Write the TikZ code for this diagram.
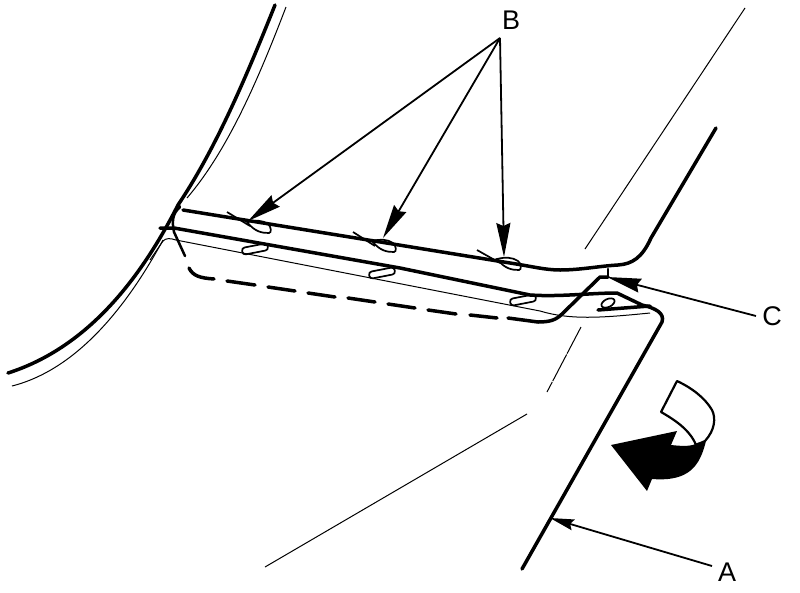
\documentclass[tikz,border=0pt]{standalone}
\usepackage{fontspec}
\setmainfont{Liberation Sans}
\usetikzlibrary{arrows.meta}
\tikzset{
 thick line/.style={line width=3.5pt,line cap=round,line join=round},
 mid line/.style={line width=2.5pt,line cap=round,line join=round},
 thin line/.style={line width=1pt},
 slot/.style={line width=1.7pt},
 leader/.style={line width=1.8pt,-{Stealth[length=34pt,width=14pt,inset=3pt]}},
 lab/.style={font=\fontsize{27}{27}\selectfont,inner sep=0pt}
}
\begin{document}
\begin{tikzpicture}[x=1pt,y=-1pt]
\useasboundingbox (0,0) rectangle (800,592);
% big fender curves
\draw[thick line] (275,5) .. controls (245,80) and (215,150) .. (178,205) .. controls (135,290) and (80,350) .. (8,373);
\draw[thin line] (286,7) .. controls (258,80) and (228,150) .. (187,198);
\draw[thin line] (163,240) .. controls (125,310) and (75,370) .. (12,386);
% thin background lines
\draw[thin line] (745,8) -- (585,249);
\draw[thin line,dash pattern=on 30pt off 1pt] (581,327) -- (547,392);
\draw[thin line] (527,414) -- (265,567);
% thin lip
\draw[thin line] (150,260) -- (163,241) .. controls (166,238) and (170,238) .. (176,240) -- (540,311) .. controls (570,320) and (600,318) .. (650,313);
% top rail
\draw[thick line] (716,128) -- (651,238) .. controls (642,258) and (632,264) .. (618,265) .. controls (600,266) and (580,270) .. (560,270) .. controls (545,270) and (530,266) .. (510,263) -- (183,210);
% second rail
\draw[thick line] (160,228) -- (174,228) -- (400,268) -- (530,295) .. controls (560,297) and (590,293) .. (617,293) -- (642,305) .. controls (655,308) and (665,313) .. (662,322) -- (522,569);
% left return
\draw[mid line] (178,205) -- (180,207) .. controls (172,214) and (172,222) .. (174,232) -- (185,256);
% dashed edge
\draw[thick line] (189,268) .. controls (193,276) and (200,278) .. (214,279);
\draw[thick line] (227,281) -- (255,285);
\draw[thick line] (268,287) -- (295,291);
\draw[thick line] (308,293) -- (335,297);
\draw[thick line] (348,298) -- (375,302);
\draw[thick line] (388,304) -- (415,308);
\draw[thick line] (428,310) -- (456,314);
\draw[thick line] (470,315) -- (497,318);
\draw[thick line] (508,318) -- (538,322);
% rising segment
\draw[thick line] (538,322) .. controls (550,322) and (556,320) .. (562,314) -- (600,277) -- (608,277);
\draw[mid line] (608,277) -- (608,269);
% small bracket
\draw[thick line] (598,310) -- (650,306);
\draw[slot] (608,303) ellipse [x radius=7pt,y radius=4pt,rotate=25];
% upper slots and ticks
\draw[slot] (227,212) -- (250,226);
\draw[slot] (353,232) -- (375,246);
\draw[slot] (477,250) -- (500,263);
\draw[slot] (247,222) .. controls (255,232) and (262,233) .. (269,233) .. controls (272,233) and (271,226) .. (268,224) .. controls (262,220) and (255,220) .. cycle;
\draw[slot] (372,241) .. controls (380,251) and (387,252) .. (394,252) .. controls (397,252) and (396,245) .. (393,243) .. controls (387,239) and (380,239) .. cycle;
\draw[slot] (497,259) .. controls (505,269) and (512,270) .. (519,270) .. controls (522,270) and (521,263) .. (518,261) .. controls (512,257) and (505,257) .. cycle;
% lower slots
\draw[slot,rounded corners=3pt,rotate around={11:(255,249)}] (242,245.5) rectangle (268,252.5);
\draw[slot,rounded corners=3pt,rotate around={11:(382,273)}] (369,269.5) rectangle (395,276.5);
\draw[slot,rounded corners=3pt,rotate around={11:(523,300)}] (510,296.5) rectangle (536,303.5);
% turn arrow
\draw[line width=2.2pt,fill=white,line join=round] (677,381) -- (661,412) .. controls (675,420) and (690,430) .. (696,445) -- (705,441) .. controls (715,430) and (716,418) .. (712,410) .. controls (705,398) and (692,388) .. (677,381) -- cycle;
\fill (611,445) -- (677,431) -- (671,445) .. controls (680,446) and (692,447) .. (697,443) -- (706,441) .. controls (700,465) and (690,482) .. (652,479) -- (647,491) -- cycle;
% labels
\node[lab] (labB) at (511,20) {B};
\node[lab] (labC) at (772,316) {C};
\node[lab] (labA) at (727,572) {A};
\coordinate (fanB) at (500,38);
\coordinate (b1) at (248,221);
\coordinate (b2) at (383,238);
\coordinate (b3) at (504,257);
\coordinate (tipC) at (607,277);
\coordinate (tipA) at (550,518);
\coordinate (tailC) at (756,316);
\coordinate (tailA) at (712,566);
\draw[leader] (fanB) -- (b1);
\draw[leader] (fanB) -- (b2);
\draw[leader] (fanB) -- (b3);
\draw[leader] (tailC) -- (tipC);
\draw[leader,-{Stealth[length=24pt,width=11pt,inset=3pt]}] (tailA) -- (tipA);
\end{tikzpicture}
\end{document}
